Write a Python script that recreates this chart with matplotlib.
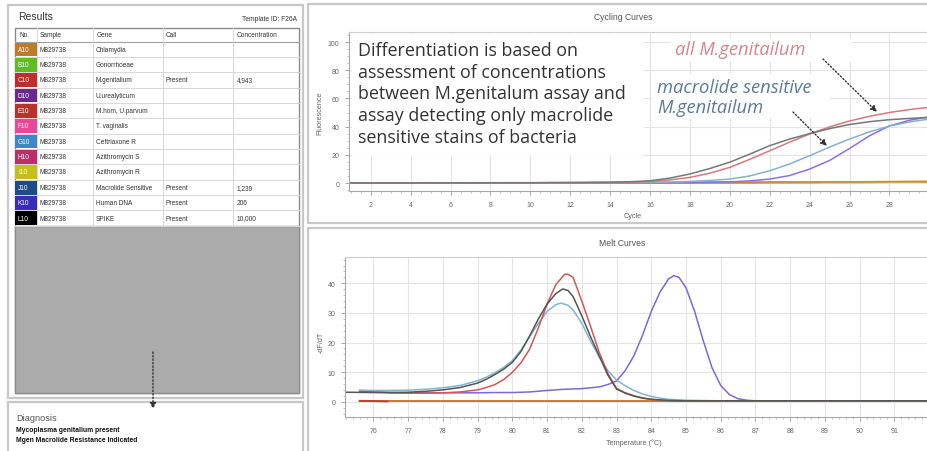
import matplotlib
matplotlib.use('Agg')
import matplotlib.pyplot as plt
from matplotlib.patches import Rectangle
from matplotlib.ticker import MultipleLocator

# ---------------- data ----------------
well_ids = ['A10', 'B10', 'C10', 'D10', 'E10', 'F10', 'G10', 'H10', 'I10', 'J10', 'K10', 'L10']
well_colors = ['#C07A2C', '#5DBE1E', '#BE2E2A', '#6A2A8C', '#BE302A', '#E8489A',
               '#3A88C6', '#BE2C6C', '#C6BE1E', '#1C4C86', '#3A2CB6', '#000000']
samples = ['M829738'] * 12
genes = ['Chlamydia', 'Gonorrhoeae', 'M.genitalium', 'U.urealyticum', 'M.hom, U.parvum',
         'T. vaginalis', 'Ceftriaxone R', 'Azithromycin S', 'Azithromycin R',
         'Macrolide Sensitive', 'Human DNA', 'SPIKE']
calls = ['', '', 'Present', '', '', '', '', '', '', 'Present', 'Present', 'Present']
concentrations = ['', '', '4,943', '', '', '', '', '', '', '1,239', '206', '10,000']

cycles = list(range(1, 31))
cyc_black = [0.0, 0.0, 0.0, 0.0, 0.1, 0.1, 0.1, 0.2, 0.2, 0.2, 0.3, 0.3, 0.4, 0.5, 0.9,
             1.6, 3.5, 6.4, 10.3, 14.8, 20.5, 26.5, 31.2, 35.0, 38.6, 41.5, 43.5, 44.9, 45.8, 46.5]
cyc_red = [0.0, 0.0, 0.0, 0.0, 0.0, 0.1, 0.1, 0.1, 0.2, 0.2, 0.2, 0.3, 0.3, 0.4, 0.6,
           1.0, 2.2, 4.0, 7.0, 11.1, 16.8, 22.9, 29.0, 34.8, 39.8, 44.0, 47.3, 50.0, 52.1, 53.7]
cyc_blue = [0.0, 0.0, 0.0, 0.0, 0.0, 0.0, 0.1, 0.1, 0.1, 0.1, 0.2, 0.2, 0.2, 0.3, 0.3,
            0.4, 0.7, 1.1, 1.8, 2.8, 5.0, 8.7, 13.5, 19.4, 25.5, 31.2, 36.3, 40.4, 43.3, 45.4]
cyc_purple = [0.0, 0.0, 0.0, 0.0, 0.0, 0.0, 0.0, 0.1, 0.1, 0.1, 0.1, 0.1, 0.2, 0.2, 0.2,
              0.2, 0.3, 0.3, 0.5, 0.8, 1.5, 2.8, 5.3, 9.9, 16.0, 24.5, 33.5, 40.5, 44.5, 47.0]
cyc_orange = [0.0, 0.0, 0.0, 0.0, 0.0, 0.1, 0.1, 0.1, 0.1, 0.1, 0.2, 0.2, 0.2, 0.2, 0.3,
              0.3, 0.3, 0.4, 0.4, 0.5, 0.5, 0.6, 0.6, 0.7, 0.8, 0.8, 0.9, 1.0, 1.1, 1.2]
cyc_yellow = [0.0, 0.0, 0.0, 0.0, 0.0, 0.0, 0.0, 0.1, 0.1, 0.1, 0.1, 0.1, 0.1, 0.2, 0.2,
              0.2, 0.2, 0.2, 0.3, 0.3, 0.3, 0.3, 0.4, 0.4, 0.4, 0.4, 0.5, 0.5, 0.5, 0.6]
cyc_darkpurple = [0.0, 0.0, 0.0, 0.0, 0.0, 0.1, 0.1, 0.1, 0.1, 0.1, 0.1, 0.1, 0.2, 0.2, 0.2,
                  0.2, 0.2, 0.3, 0.3, 0.3, 0.3, 0.4, 0.4, 0.4, 0.5, 0.5, 0.5, 0.6, 0.6, 0.7]

melt_T_red = [75.6, 76, 76.5, 77, 77.5, 78, 78.5, 79, 79.25, 79.5, 79.75, 80, 80.25, 80.5, 80.75,
              81, 81.25, 81.5, 81.6, 81.75, 82, 82.25, 82.5, 82.75, 83, 83.25, 83.5, 83.75, 84,
              84.5, 85, 86, 88, 90, 92]
melt_red = [3.4, 3.2, 3.0, 2.9, 2.9, 3.0, 3.3, 4.0, 4.8, 5.8, 7.5, 9.9, 13.2, 17.8, 25.0,
            33.0, 39.5, 43.0, 43.1, 42.0, 34.0, 25.5, 16.7, 9.5, 4.5, 3.0, 2.0, 1.3, 0.8,
            0.4, 0.3, 0.2, 0.2, 0.2, 0.2]
melt_T_black = [75.18, 76, 76.5, 77, 77.5, 78, 78.5, 79, 79.25, 79.5, 79.75, 80, 80.25, 80.5, 80.75,
                81, 81.25, 81.45, 81.6, 81.75, 82, 82.25, 82.5, 82.75, 83, 83.25, 83.5, 83.75, 84,
                84.5, 85, 86, 88, 90, 92]
melt_black = [3.2, 3.1, 3.1, 3.2, 3.5, 4.0, 4.8, 6.3, 7.6, 9.2, 11.0, 13.3, 17.0, 22.3, 28.0,
              33.0, 36.5, 38.1, 37.6, 35.5, 29.0, 22.0, 15.5, 9.0, 4.3, 2.9, 1.9, 1.2, 0.8,
              0.4, 0.3, 0.3, 0.3, 0.3, 0.3]
melt_T_blue = [75.6, 76, 76.5, 77, 77.5, 78, 78.5, 79, 79.25, 79.5, 79.75, 80, 80.25, 80.5, 80.75,
               81, 81.25, 81.4, 81.6, 81.75, 82, 82.25, 82.5, 82.75, 83, 83.25, 83.5, 83.75, 84,
               84.25, 84.5, 85, 86, 88, 90, 92]
melt_blue = [3.9, 3.8, 3.8, 3.9, 4.2, 4.7, 5.5, 7.1, 8.3, 9.8, 11.6, 13.9, 17.5, 22.0, 26.5,
             30.5, 32.8, 33.3, 32.6, 31.0, 26.5, 20.5, 15.1, 10.5, 7.3, 5.4, 3.8, 2.6, 1.8,
             1.2, 0.8, 0.5, 0.3, 0.3, 0.3, 0.3]
melt_T_purple = [75.6, 76, 76.5, 77, 77.5, 78, 78.5, 79, 79.5, 80, 80.5, 81, 81.5, 82, 82.5,
                 82.75, 83, 83.25, 83.5, 83.75, 84, 84.25, 84.5, 84.65, 84.8, 85, 85.25, 85.5,
                 85.75, 86, 86.25, 86.5, 86.75, 87, 88, 89, 90, 91, 92]
melt_purple = [3.6, 3.3, 3.1, 3.0, 3.0, 3.0, 3.0, 3.0, 3.1, 3.1, 3.3, 3.8, 4.2, 4.4, 5.0,
               5.8, 7.0, 10.5, 15.5, 22.5, 30.5, 37.0, 41.5, 42.6, 42.0, 38.5, 30.5, 20.5,
               11.5, 5.5, 2.4, 1.0, 0.5, 0.3, 0.2, 0.2, 0.2, 0.2, 0.2]
melt_T_base = [75.6, 80, 85, 90, 92]
melt_orange = [0.1, 0.1, 0.1, 0.1, 0.1]
melt_T_darkred = [75.6, 76.0, 76.4]
melt_darkred = [0.3, 0.2, 0.1]

# ---------------- figure ----------------
W, H = 928, 452
fig = plt.figure(figsize=(W / 100, H / 100), dpi=100)
fig.patch.set_facecolor('white')

bg = fig.add_axes([0, 0, 1, 1], zorder=0)
bg.set_xlim(0, W); bg.set_ylim(H, 0); bg.axis('off')

panel_ec = '#C8C8C8'
for (x, y, w, h) in [(8, 6, 295, 393), (8, 403, 295, 60), (308, 5, 640, 219), (308, 229, 640, 240)]:
    bg.add_patch(Rectangle((x, y), w, h, fc='white', ec=panel_ec, lw=1.6))

FT = 'Liberation Sans'
# Results header
bg.text(18, 17, 'Results', fontsize=7.5, color='#333333', va='center', family=FT)
bg.text(297, 19.5, 'Template ID: F26A', fontsize=4.8, color='#333333', va='center', ha='right', family=FT)

# Table
tx0, tx1 = 15, 299
col_edges = [15, 37, 93, 163, 233, 299]
head_y0, head_y1 = 29, 42.5
row_h = 15.35
rows_y0 = 42.5
bg.add_patch(Rectangle((tx0, head_y0), tx1 - tx0, 394 - head_y0, fc='white', ec='#8C8C8C', lw=1.0))
headers = ['No.', 'Sample', 'Gene', 'Call', 'Concentration']
head_x = [20, 40, 97, 166, 237]
for hx, ht in zip(head_x, headers):
    bg.text(hx, (head_y0 + head_y1) / 2, ht, fontsize=4.7, color='#333333', va='center', family=FT)
bg.plot([tx0, tx1], [head_y1, head_y1], color='#A0A0A0', lw=0.8)
n = len(well_ids)
for i in range(n):
    y0 = rows_y0 + i * row_h
    yc = y0 + row_h / 2
    bg.add_patch(Rectangle((col_edges[0] + 0.5, y0 + 0.5), col_edges[1] - col_edges[0] - 0.5, row_h - 1,
                           fc=well_colors[i], ec='none'))
    bg.text(18, yc, well_ids[i], fontsize=4.7, color='white', va='center', family=FT)
    bg.text(40, yc, samples[i], fontsize=4.7, color='#333333', va='center', family=FT)
    bg.text(96, yc, genes[i], fontsize=4.7, color='#333333', va='center', family=FT)
    bg.text(166, yc, calls[i], fontsize=4.7, color='#333333', va='center', family=FT)
    bg.text(237, yc, concentrations[i], fontsize=4.7, color='#333333', va='center', family=FT)
    bg.plot([tx0, tx1], [y0 + row_h, y0 + row_h], color='#D8D8D8', lw=0.7)
rows_end = rows_y0 + n * row_h
for ce in col_edges[1:-1]:
    bg.plot([ce, ce], [head_y0, rows_end], color='#D8D8D8', lw=0.7)
bg.add_patch(Rectangle((tx0, rows_end), tx1 - tx0, 394 - rows_end, fc='#ABABAB', ec='#8C8C8C', lw=1.0))

# Diagnosis
bg.text(16, 418.5, 'Diagnosis', fontsize=6.6, color='#555555', va='center', family=FT)
bg.text(16, 431, 'Mycoplasma genitalium present', fontsize=4.9, color='#111111', va='center',
        family=FT, fontweight='bold')
bg.text(16, 441, 'Mgen Macrolide Resistance Indicated', fontsize=4.9, color='#111111', va='center',
        family=FT, fontweight='bold')

# panel titles and labels
lab_c = '#666666'
bg.text(623, 18, 'Cycling Curves', fontsize=6.2, color='#555555', ha='center', va='center', family=FT)
bg.text(622, 244, 'Melt Curves', fontsize=6.2, color='#555555', ha='center', va='center', family=FT)
bg.text(320, 113, 'Fluorescence', fontsize=5.2, color=lab_c, rotation=90, ha='center', va='center', family=FT)
bg.text(321, 342, '-dF/dT', fontsize=5.2, color=lab_c, rotation=90, ha='center', va='center', family=FT)
bg.text(633, 217, 'Cycle', fontsize=5.2, color=lab_c, ha='center', va='center', family=FT)
bg.text(634, 443, 'Temperature (°C)', fontsize=5.2, color=lab_c, ha='center', va='center', family=FT)


def style_axes(ax):
    for s in ['left', 'bottom']:
        ax.spines[s].set_color('#A8A8A8')
        ax.spines[s].set_linewidth(0.8)
    ax.spines['top'].set_color('#D0D0D0')
    ax.spines['top'].set_linewidth(0.8)
    ax.spines['right'].set_visible(False)
    ax.tick_params(which='major', length=3, width=0.6, color='#999999', labelsize=5, labelcolor='#666666', pad=4)
    ax.tick_params(which='minor', length=1.5, width=0.5, color='#AAAAAA')
    ax.grid(True, which='major', color='#E4E4E4', lw=0.8)
    ax.set_axisbelow(True)
    for lab in ax.get_xticklabels() + ax.get_yticklabels():
        lab.set_family(FT)


# Cycling axes
ax1 = fig.add_axes([349 / W, 1 - 192 / H, (W - 349) / W, (192 - 33) / H], zorder=1)
ax1.set_xlim(0.91, 29.93)
ax1.set_ylim(-5.67, 107.1)
ax1.xaxis.set_major_locator(MultipleLocator(2))
ax1.xaxis.set_minor_locator(MultipleLocator(0.5))
ax1.yaxis.set_major_locator(MultipleLocator(20))
ax1.yaxis.set_minor_locator(MultipleLocator(5))
ax1.plot(cycles, cyc_darkpurple, color='#5A3A7A', lw=1.2)
ax1.plot(cycles, cyc_yellow, color='#C8C040', lw=1.0)
ax1.plot(cycles, cyc_orange, color='#D08A40', lw=1.2)
ax1.plot(cycles, cyc_purple, color='#8C70E0', lw=1.1)
ax1.plot(cycles, cyc_blue, color='#86B2CE', lw=1.1)
ax1.plot(cycles, cyc_red, color='#D87A7C', lw=1.1)
ax1.plot(cycles, cyc_black, color='#777777', lw=1.1)
style_axes(ax1)

# Melt axes
ax2 = fig.add_axes([345 / W, 1 - 418 / H, (W - 345) / W, (418 - 258) / H], zorder=1)
ax2.set_xlim(75.18, 91.97)
ax2.set_ylim(-5.17, 48.9)
ax2.xaxis.set_major_locator(MultipleLocator(1))
ax2.xaxis.set_minor_locator(MultipleLocator(0.2))
ax2.yaxis.set_major_locator(MultipleLocator(10))
ax2.yaxis.set_minor_locator(MultipleLocator(2))
ax2.plot(melt_T_base, melt_orange, color='#C87A30', lw=1.4)
ax2.plot(melt_T_darkred, melt_darkred, color='#C04030', lw=1.4)
ax2.plot(melt_T_purple, melt_purple, color='#7B6AD8', lw=1.1)
ax2.plot(melt_T_blue, melt_blue, color='#80B4D2', lw=1.1)
ax2.plot(melt_T_red, melt_red, color='#D05858', lw=1.1)
ax2.plot(melt_T_black, melt_black, color='#555555', lw=1.1)
style_axes(ax2)

# Overlay annotations
ov = fig.add_axes([0, 0, 1, 1], zorder=5)
ov.set_xlim(0, W); ov.set_ylim(H, 0); ov.axis('off')
ov.patch.set_alpha(0)

AF = 'Open Sans'
ov.add_patch(Rectangle((352, 35), 292, 122, fc='white', ec='none'))
main_lines = ['Differentiation is based on', 'assessment of concentrations',
              'between M.genitalum assay and', 'assay detecting only macrolide',
              'sensitive stains of bacteria']
for k, line in enumerate(main_lines):
    ov.text(358, 56 + k * 21.7, line, fontsize=12.9, family=AF, color='#333333', va='baseline')

ov.add_patch(Rectangle((670, 40), 182, 22, fc='white', ec='none'))
ov.text(675, 55, 'all M.genitailum', fontsize=13.2, family=AF, style='italic', color='#D4868A', va='baseline')
ov.add_patch(Rectangle((652, 75), 178, 44, fc='white', ec='none'))
ov.text(657, 93.3, 'macrolide sensitive', fontsize=13.2, family=AF, style='italic', color='#5B7B99', va='baseline')
ov.text(657, 113.3, 'M.genitailum', fontsize=13.2, family=AF, style='italic', color='#5B7B99', va='baseline')

arrow_kw = dict(arrowstyle='-|>', linestyle=(0, (1, 1.5)), color='#333333', lw=1.0, mutation_scale=9,
                shrinkA=0, shrinkB=0)
ov.annotate('', xy=(877, 113), xytext=(823, 60), arrowprops=arrow_kw)
ov.annotate('', xy=(827, 147), xytext=(793, 113), arrowprops=arrow_kw)
ov.annotate('', xy=(153, 410), xytext=(153, 353), arrowprops=arrow_kw)

fig.savefig('out.png', dpi=100, facecolor='white')
